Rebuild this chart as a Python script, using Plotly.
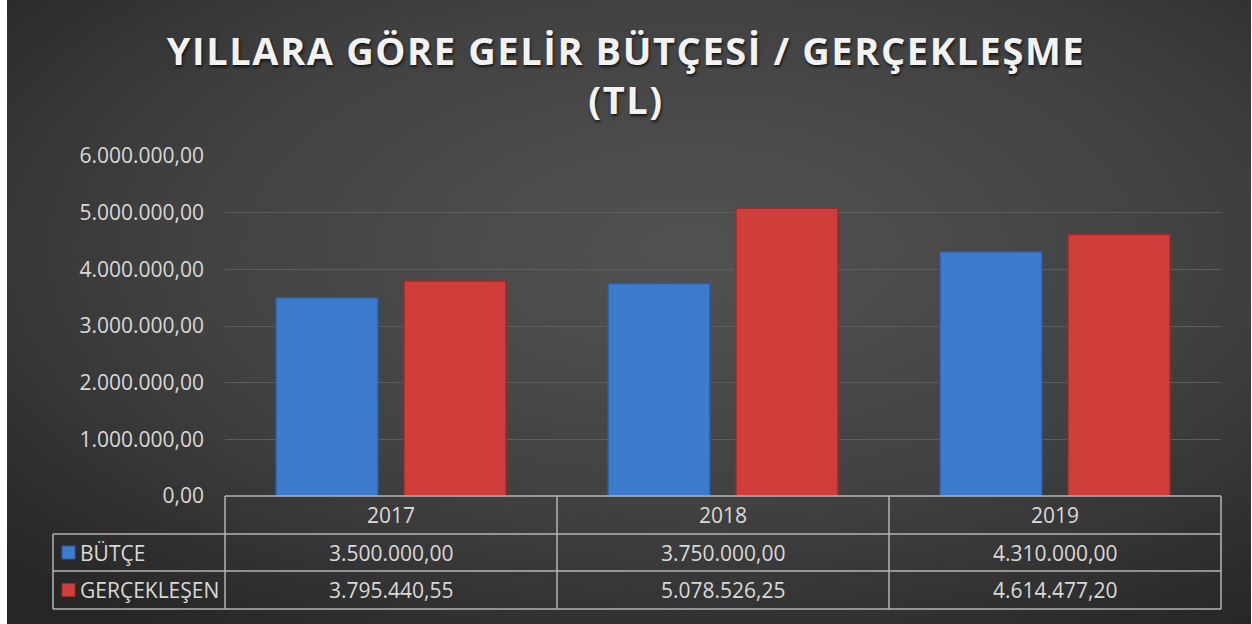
import base64
import plotly.graph_objects as go

years = ["2017", "2018", "2019"]
butce = [3500000.00, 3750000.00, 4310000.00]
gerceklesen = [3795440.55, 5078526.25, 4614477.20]
series_names = ["BÜTÇE", "GERÇEKLEŞEN"]
title_text = "YILLARA GÖRE GELİR BÜTÇESİ / GERÇEKLEŞME<br>(TL)"

W, H = 1252, 624
L, R, T, B = 225, 31, 156, 128
PW, PH = W - L - R, H - T - B


def px_x(x):
    return (x - L) / PW


def px_y(y):
    return (H - B - y) / PH


def tr(v):
    s = f"{v:,.2f}"
    return s.replace(",", "X").replace(".", ",").replace("X", ".")


BLUE = "#3d7ccc"
RED = "#cf3e3a"
BLUE_D = "#2b5d9e"
RED_D = "#9a2c28"
TXT = "#d9d9d9"
GRID = "#5d5d5d"
TLINE = "#b5b5b5"
FS = 21

fig = go.Figure()
fig.add_trace(go.Bar(x=years, y=butce, name=series_names[0],
                     marker=dict(color=BLUE, line=dict(color=BLUE_D, width=1.5))))
fig.add_trace(go.Bar(x=years, y=gerceklesen, name=series_names[1],
                     marker=dict(color=RED, line=dict(color=RED_D, width=1.5))))

svg = '''<svg xmlns="http://www.w3.org/2000/svg" width="1244" height="624" viewBox="0 0 1244 624" preserveAspectRatio="none">
<defs><radialGradient id="g" cx="0.55" cy="0.4" r="0.75">
<stop offset="0" stop-color="#525252"/><stop offset="0.55" stop-color="#414141"/><stop offset="1" stop-color="#262626"/>
</radialGradient></defs><rect width="1244" height="624" fill="url(#g)"/></svg>'''
src = "data:image/svg+xml;base64," + base64.b64encode(svg.encode()).decode()

fig.add_layout_image(dict(source=src, xref="paper", yref="paper",
                          x=px_x(7), y=px_y(0), sizex=(1251 - 7) / PW, sizey=H / PH,
                          xanchor="left", yanchor="top", sizing="stretch", layer="below"))

shapes = []
cols = [225, 557, 889, 1221]
rows = [496, 534, 571, 609]
for y in rows:
    x0 = 225 if y == 496 else 53
    shapes.append(dict(type="line", xref="paper", yref="paper", x0=px_x(x0), x1=px_x(1221),
                       y0=px_y(y), y1=px_y(y), line=dict(color=TLINE, width=1.5)))
for x in cols:
    shapes.append(dict(type="line", xref="paper", yref="paper", x0=px_x(x), x1=px_x(x),
                       y0=px_y(496), y1=px_y(609), line=dict(color=TLINE, width=1.5)))
shapes.append(dict(type="line", xref="paper", yref="paper", x0=px_x(53), x1=px_x(53),
                   y0=px_y(534), y1=px_y(609), line=dict(color=TLINE, width=1.5)))
for yc, col, dark in [(552.5, BLUE, BLUE_D), (590, RED, RED_D)]:
    shapes.append(dict(type="rect", xref="paper", yref="paper", x0=px_x(62), x1=px_x(75),
                       y0=px_y(yc - 6.5), y1=px_y(yc + 6.5), fillcolor=col,
                       line=dict(color=dark, width=1)))

annotations = []
centers = [391, 723, 1055]


def cell(text, xc, yc, anchor="center"):
    return dict(text=text, x=px_x(xc), y=px_y(yc), xref="paper", yref="paper",
                xanchor=anchor, yanchor="middle", showarrow=False,
                font=dict(size=FS, color=TXT))


for i, yr in enumerate(years):
    annotations.append(cell(yr, centers[i], 515))
    annotations.append(cell(tr(butce[i]), centers[i], 552.5))
    annotations.append(cell(tr(gerceklesen[i]), centers[i], 590))
for name, yc in zip(series_names, [552.5, 590]):
    annotations.append(cell(name, 78, yc, anchor="left"))

fig.update_layout(
    width=W, height=H,
    margin=dict(l=L, r=R, t=T, b=B, autoexpand=False),
    paper_bgcolor="white",
    plot_bgcolor="rgba(0,0,0,0)",
    font=dict(family="Open Sans, Lato, sans-serif", color=TXT),
    separators=",.",
    showlegend=False,
    barmode="group",
    bargap=0.229,
    bargroupgap=0.203,
    title=dict(text=title_text, x=0.5, xanchor="center", y=1 - 65 / H, yref="container",
               yanchor="middle",
               font=dict(family="Open Sans, sans-serif", size=38, color="#f2f2f2", weight="bold",
                         shadow="1px 2px 3px rgba(0,0,0,0.7)")),
    shapes=shapes,
    annotations=annotations,
    xaxis=dict(showticklabels=False, showgrid=False, zeroline=False, showline=False,
               ticks="", range=[-0.5, 2.5]),
    yaxis=dict(range=[0, 6000000], dtick=1000000, tickformat=",.2f", showgrid=True,
               gridcolor=GRID, gridwidth=1, zeroline=False, showline=False, ticks="",
               ticklabelstandoff=20, tickfont=dict(size=FS, color=TXT)),
)

post = """
document.body.style.margin = '0';
document.documentElement.style.margin = '0';
document.querySelectorAll('.gtitle').forEach(function(t){ t.style.letterSpacing = '1.6px'; });
"""
fig.write_html("out.html", post_script=post, config={"displayModeBar": False})
